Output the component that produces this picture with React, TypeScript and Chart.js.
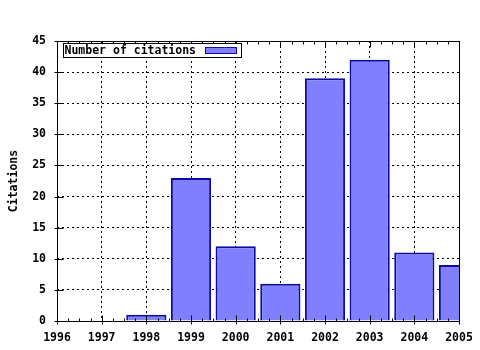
import { useEffect, useRef } from "react";
import { Chart, registerables } from "chart.js";

Chart.register(...registerables);

// ---- data ----
const years = [1998, 1999, 2000, 2001, 2002, 2003, 2004, 2005];
const citations = [1, 23, 12, 6, 39, 42, 11, 9];
const xMin = 1996;
const xMax = 2005;
const yMin = 0;
const yMax = 45;
const yStep = 5;
const seriesLabel = "Number of citations";
const yTitle = "Citations";

const FONT = "'DejaVu Sans Mono', 'Liberation Mono', monospace";
const FILL = "#8080ff";
const EDGE = "#0c0ca0";

const framePlugin = {
  id: "frame",
  afterDatasetsDraw(chart: any) {
    const { ctx, chartArea: a, scales } = chart;
    const l = Math.round(a.left) + 0.5;
    const r = Math.round(a.right) + 0.5;
    const t = Math.round(a.top) + 0.5;
    const b = Math.round(a.bottom) + 0.5;
    ctx.save();
    ctx.setLineDash([]);
    ctx.strokeStyle = "#000";
    ctx.lineWidth = 1;
    ctx.beginPath();
    ctx.rect(l, t, r - l, b - t);
    const xs = scales.x;
    for (let v = xMin; v <= xMax; v++) {
      const px = Math.round(xs.getPixelForValue(v)) + 0.5;
      ctx.moveTo(px, b - 6);
      ctx.lineTo(px, b + 3);
      ctx.moveTo(px, t);
      ctx.lineTo(px, t + 6);
      if (v < xMax) {
        for (let k = 1; k < 4; k++) {
          const mx = Math.round(xs.getPixelForValue(v + k / 4)) + 0.5;
          ctx.moveTo(mx, b - 3);
          ctx.lineTo(mx, b);
          ctx.moveTo(mx, t);
          ctx.lineTo(mx, t + 3);
        }
      }
    }
    const ys = scales.y;
    for (let v = yMin; v <= yMax; v += yStep) {
      const py = Math.round(ys.getPixelForValue(v)) + 0.5;
      ctx.moveTo(l - 3, py);
      ctx.lineTo(l + 6, py);
    }
    ctx.stroke();
    ctx.restore();
  },
  afterDraw(chart: any) {
    const { ctx, chartArea: a } = chart;
    const ds = chart.data.datasets[0];
    const bx = Math.round(a.left) + 6.5;
    const by = Math.round(a.top) + 2.5;
    const bw = 178;
    const bh = 14;
    ctx.save();
    ctx.setLineDash([]);
    ctx.fillStyle = "#fff";
    ctx.fillRect(bx, by, bw, bh);
    ctx.strokeStyle = "#000";
    ctx.lineWidth = 1;
    ctx.strokeRect(bx, by, bw, bh);
    ctx.font = `bold 11.5px ${FONT}`;
    ctx.fillStyle = "#000";
    ctx.textBaseline = "middle";
    ctx.textAlign = "left";
    ctx.fillText(ds.label, bx + 1, by + bh / 2 + 0.5);
    ctx.fillStyle = FILL;
    ctx.fillRect(bx + 142, by + 4, 31, 6);
    ctx.strokeStyle = EDGE;
    ctx.strokeRect(bx + 142, by + 4, 31, 6);
    ctx.restore();
  },
};

export default function App() {
  const ref = useRef<HTMLCanvasElement | null>(null);
  useEffect(() => {
    if (!ref.current) return;
    const chart = new Chart(ref.current, {
      type: "bar",
      data: {
        datasets: [
          {
            label: seriesLabel,
            data: years.map((x, i) => ({ x, y: citations[i] })),
            backgroundColor: FILL,
            borderColor: EDGE,
            borderWidth: 2,
            borderSkipped: "start",
            categoryPercentage: 1,
            barPercentage: 0.9,
            clip: 0,
          } as any,
        ],
      },
      options: {
        animation: false,
        responsive: false,
        maintainAspectRatio: false,
        layout: { padding: { top: 41, right: 21, left: 0, bottom: 0 } },
        plugins: {
          legend: { display: false },
          tooltip: { enabled: false },
        },
        scales: {
          x: {
            type: "linear",
            min: xMin,
            max: xMax,
            offset: false,
            afterFit: (s: any) => {
              s.height = 29;
              s.paddingLeft = 0;
              s.paddingRight = 0;
            },
            ticks: {
              stepSize: 1,
              autoSkip: false,
              maxRotation: 0,
              padding: 10,
              color: "#000",
              font: { family: FONT, size: 11.5, weight: "bold" },
              callback: (v: any) => String(v),
            },
            grid: {
              color: "#000",
              lineWidth: 1,
              drawTicks: false,
              offset: false,
            },
            border: { display: false, dash: [2, 3] },
          },
          y: {
            min: yMin,
            max: yMax,
            afterFit: (s: any) => {
              s.width = 57;
              s.paddingTop = 0;
              s.paddingBottom = 0;
            },
            ticks: {
              stepSize: yStep,
              padding: 11,
              color: "#000",
              font: { family: FONT, size: 11.5, weight: "bold" },
            },
            grid: {
              color: "#000",
              lineWidth: 1,
              drawTicks: false,
            },
            border: { display: false, dash: [2, 3] },
            title: {
              display: true,
              text: yTitle,
              color: "#000",
              font: { family: FONT, size: 11.5, weight: "bold" },
              padding: { top: 7, bottom: 0 },
            },
          },
        },
      },
      plugins: [framePlugin],
    });
    return () => chart.destroy();
  }, []);
  return (
    <div style={{ position: "absolute", left: 0, top: 0, width: 480, height: 350, background: "#fff" }}>
      <canvas ref={ref} width={480} height={350} style={{ width: 480, height: 350 }} />
    </div>
  );
}
